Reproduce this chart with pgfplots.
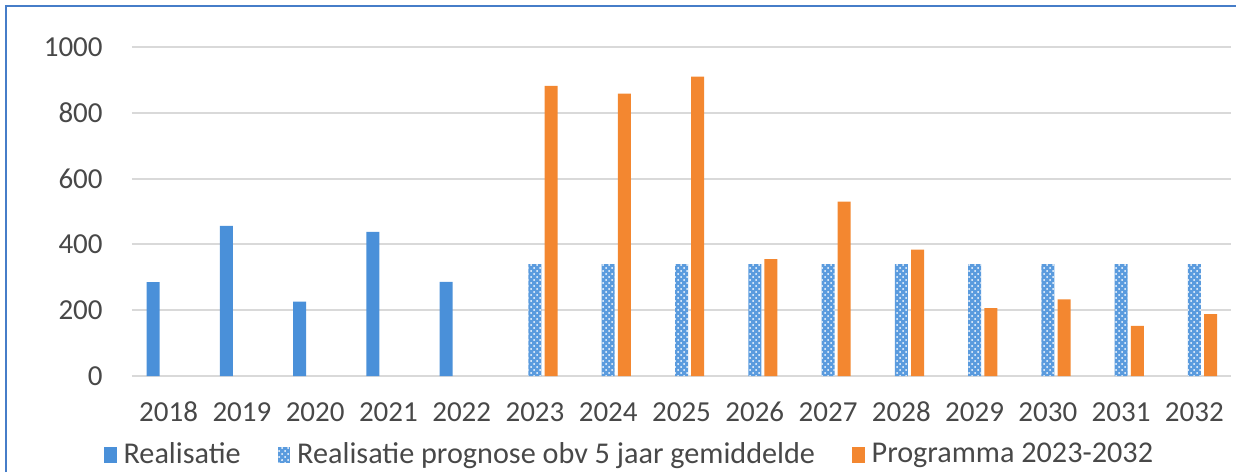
\documentclass[border=0pt]{standalone}
\usepackage{fontspec}
\setmainfont{Carlito}
\usepackage{pgfplots}
\pgfplotsset{compat=1.18}
\usetikzlibrary{patterns}
\definecolor{rblue}{RGB}{74,144,217}
\definecolor{pblue}{RGB}{90,155,222}
\definecolor{rorange}{RGB}{243,135,48}
\definecolor{txt}{RGB}{72,72,72}
\definecolor{grd}{RGB}{217,217,217}
\definecolor{frame}{RGB}{70,125,200}
\begin{document}
\begin{tikzpicture}
\fontsize{14.3}{17}\selectfont
\path[use as bounding box] (-66pt,-48pt) rectangle (552pt,188pt);
\draw[frame, line width=1pt] (-63pt,-48pt) -- (-63pt,185pt) -- (552pt,185pt);
\begin{axis}[
  at={(0,0)}, anchor=south west,
  scale only axis, width=549.5pt, height=164.5pt,
  xmin=-0.5, xmax=14.5, ymin=0, ymax=1000,
  ybar, bar width=6.5pt,
  xtick={0,...,14},
  xticklabels={2018,2019,2020,2021,2022,2023,2024,2025,2026,2027,2028,2029,2030,2031,2032},
  ytick={0,200,400,600,800,1000},
  ymajorgrids, grid style={grd, line width=1pt},
  axis line style={draw=none},
  major tick length=0pt,
  /pgf/number format/assume math mode=true,
  /pgf/number format/1000 sep={},
  tick label style={font=\fontsize{14.5}{17}\selectfont, text=txt},
  yticklabel style={anchor=east, inner sep=0pt, xshift=-14.5pt},
  xticklabel style={anchor=center, inner sep=0pt, yshift=-18pt},
  legend columns=3,
  legend style={at={(-0.0255,-0.24)}, anchor=west, draw=none, fill=none,
    inner sep=0pt, outer sep=0pt,
    font=\fontsize{15.1}{17}\selectfont, text=txt,
    nodes={inner sep=0pt},
    /tikz/every odd column/.append style={column sep=3.5pt},
    /tikz/every even column/.append style={column sep=18.5pt}},
  legend image code/.code={\draw[#1, draw=none] (0pt,-3.9pt) rectangle (6.3pt,3.9pt);},
]
\addplot[fill=rblue, draw=none, bar shift=-7.8pt]
  coordinates {(0,285) (1,456) (2,226) (3,438) (4,286)};
\addlegendentry{Realisatie}
\addplot[fill=pblue, draw=none, bar shift=0pt,
  postaction={pattern=crosshatch dots, pattern color=white}]
  coordinates {(5,340) (6,340) (7,340) (8,340) (9,340) (10,340) (11,340) (12,340) (13,340) (14,340)};
\addlegendentry{Realisatie prognose obv 5 jaar gemiddelde}
\addplot[fill=rorange, draw=none, bar shift=8.1pt]
  coordinates {(5,882) (6,858) (7,910) (8,355) (9,530) (10,384) (11,206) (12,233) (13,152) (14,188)};
\addlegendentry{Programma 2023-2032}
\end{axis}
\end{tikzpicture}
\end{document}
